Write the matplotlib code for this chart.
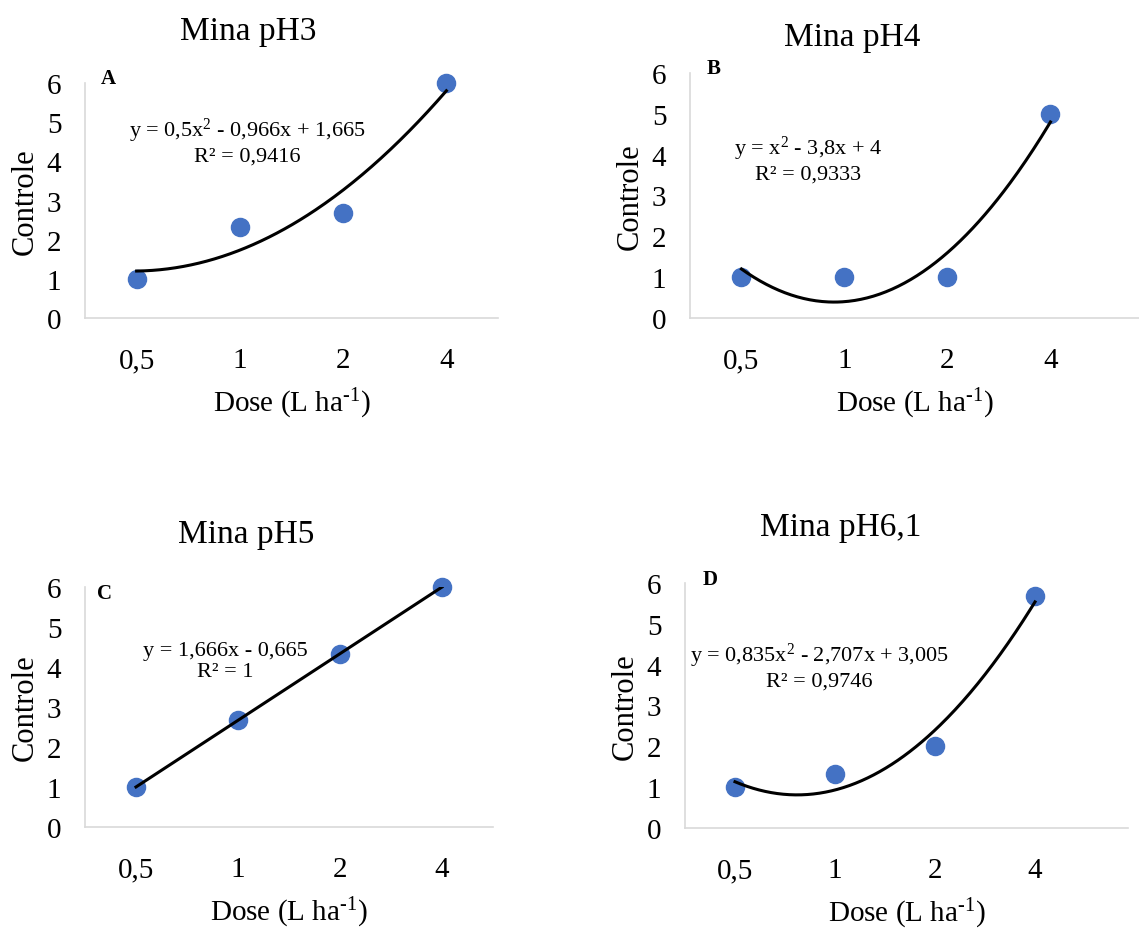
import numpy as np
import matplotlib
matplotlib.use("Agg")
import matplotlib.pyplot as plt

plt.rcParams["font.family"] = ["Liberation Serif", "DejaVu Serif"]
plt.rcParams["mathtext.fontset"] = "custom"
plt.rcParams["mathtext.rm"] = "Liberation Serif"
plt.rcParams["mathtext.it"] = "Liberation Serif:italic"

doses = ["0,5", "1", "2", "4"]

ph3 = [1, 2.33, 2.67, 6]
ph4 = [1, 1, 1, 5]
ph5 = [1, 2.67, 4.33, 6]
ph61 = [1, 1.33, 2, 5.67]

# trendline coefficients as printed on the chart (highest power first)
coef_ph3 = [0.5, -0.966, 1.665]
coef_ph4 = [1, -3.8, 4]
coef_ph5 = [1.666, -0.665]
coef_ph61 = [0.835, -2.707, 3.005]

titles = ["Mina pH3", "Mina pH4", "Mina pH5", "Mina pH6,1"]
letters = ["A", "B", "C", "D"]
equations = [
    "y = 0,5x$^2$ - 0,966x + 1,665\nR² = 0,9416",
    "y = x$^2$ - 3,8x + 4\nR² = 0,9333",
    "y = 1,666x - 0,665\nR² = 1",
    "y = 0,835x$^2$ - 2,707x + 3,005\nR² = 0,9746",
]

W, H = 1139, 929
fig = plt.figure(figsize=(W / 100, H / 100), dpi=100)

def box(l, r, t, b):
    return [l / W, 1 - b / H, (r - l) / W, (b - t) / H]

panels = [
    dict(rect=box(85, 498, 84, 319), xmax=4.5, y=ph3, c=coef_ph3,
         title=(248, 32), letter=(108, 79), eq=(247, 142)),
    dict(rect=box(690, 1139, 74, 319), xmax=4.86, y=ph4, c=coef_ph4,
         title=(852, 38), letter=(714, 69), eq=(808, 160)),
    dict(rect=box(85, 493, 588, 828), xmax=4.5, y=ph5, c=coef_ph5,
         title=(246, 535), letter=(105, 594), eq=(225, 662)),
    dict(rect=box(685, 1128, 584, 829), xmax=4.93, y=ph61, c=coef_ph61,
         title=(841, 528), letter=(710, 580), eq=(819, 667)),
]

x = np.arange(1, len(doses) + 1)
xs = np.linspace(1, 4, 200)

for i, p in enumerate(panels):
    ax = fig.add_axes(p["rect"])
    ax.plot(xs, np.polyval(p["c"], xs), color="black", lw=2.2, zorder=3)
    ax.scatter(x, p["y"], s=170, color="#4472C4", zorder=2, clip_on=False)
    ax.set_xlim(0.5, p["xmax"])
    ax.set_ylim(0, 6)
    ax.set_xticks(x)
    ax.set_xticklabels(doses)
    ax.set_yticks(range(0, 7))
    ax.tick_params(length=0, labelsize=21)
    ax.tick_params(axis="y", pad=17)
    ax.tick_params(axis="x", pad=21)
    for s in ["top", "right"]:
        ax.spines[s].set_visible(False)
    for s in ["left", "bottom"]:
        ax.spines[s].set_color("#D9D9D9")
        ax.spines[s].set_linewidth(1.2)
    ax.set_xlabel(r"Dose (L ha$^{\text{-}1}$)", fontsize=21, labelpad=9)
    ax.set_ylabel("Controle", fontsize=22, labelpad=5)

    tx, ty = p["title"]
    fig.text(tx / W, 1 - ty / H, titles[i], fontsize=24, ha="center", va="center")
    lx, ly = p["letter"]
    fig.text(lx / W, 1 - ly / H, letters[i], fontsize=15, fontweight="bold",
             ha="center", va="center")
    ex, ey = p["eq"]
    fig.text(ex / W, 1 - ey / H, equations[i], fontsize=16, ha="center",
             va="center", linespacing=1.2)

fig.savefig("out.png", dpi=100)
